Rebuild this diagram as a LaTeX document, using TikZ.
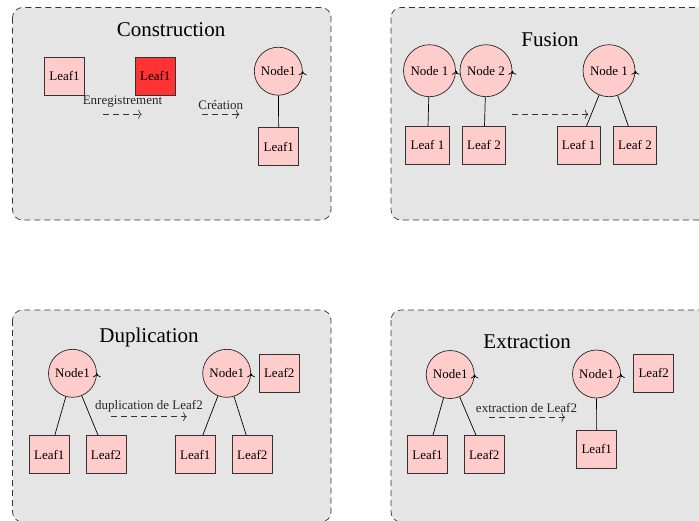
\documentclass[tikz,border=0pt]{standalone}
\usepackage{fontspec}
\setmainfont{Liberation Serif}
\usetikzlibrary{arrows.meta}
\tikzset{
  panel/.style={draw=black!80, fill=black!10, dash pattern=on 6pt off 4pt, rounded corners=10pt, line width=0.7pt},
  leaf/.style={draw=black!80, fill=red!20, minimum width=40pt, minimum height=38pt, inner sep=1pt, font=\fontsize{13}{15}\selectfont, line width=0.7pt},
  wideleaf/.style={leaf, minimum width=43.5pt},
  redleaf/.style={leaf, fill=red!80},
  inode/.style={draw=black!85, circle, fill=red!20, minimum size=48pt, inner sep=1pt, font=\fontsize{13}{15}\selectfont, line width=0.7pt},
  bignode/.style={inode, minimum size=52pt},
  paneltitle/.style={font=\fontsize{21}{25}\selectfont, inner sep=0pt},
  lbl/.style={font=\fontsize{13}{15}\selectfont, inner sep=0pt, text=black!85},
  move/.style={draw=black!80, dash pattern=on 6pt off 4pt, line width=0.7pt, -{To[length=3.5pt,width=9pt]}},
  link/.style={draw=black, line width=0.7pt},
  turn/.style={draw=black, line width=0.7pt, -{To[length=4pt,width=8pt]}}
}
\begin{document}
\begin{tikzpicture}[x=1pt,y=-1pt]
\clip (0,0) rectangle (699,520);
% panels
\path[panel] (12.5,7.5) rectangle (331,220);
\path[panel] (391,7.5) rectangle (712,220);
\path[panel] (12.5,310) rectangle (331,522);
\path[panel] (391,310) rectangle (712,522);

% ---------------- Construction
\node[paneltitle] (ct) at (171,30) {Construction};
\node[leaf] (c1) at (64.5,76) {Leaf1};
\node[redleaf] (c2) at (155.3,76) {Leaf1};
\node[inode] (c3) at (278.3,71.2) {Node1};
\node[leaf] (c4) at (278.8,146.7) {Leaf1};
\draw[link] (c3) -- (c4);
\coordinate (ca1) at (103,114.3);
\coordinate (cb1) at (141.7,114.3);
\draw[move] (ca1) -- (cb1);
\node[lbl] (cl1) at (122.5,101.7) {Enregistrement};
\coordinate (ca2) at (201.7,114.3);
\coordinate (cb2) at (239.3,114.3);
\draw[move] (ca2) -- (cb2);
\node[lbl] (cl2) at (220.8,105) {Création};
\draw[turn] ([yshift=-3pt]c3.east) -- (c3.east);

% ---------------- Fusion
\node[paneltitle] (ft) at (550,40) {Fusion};
\node[bignode] (fn1) at (429.5,70.7) {Node 1};
\node[bignode] (fn2) at (486,70.7) {Node 2};
\node[wideleaf] (fl1) at (427.5,145.2) {Leaf 1};
\node[wideleaf] (fl2) at (484,145.2) {Leaf 2};
\draw[link] (fn1) -- (fl1);
\draw[link] (fn2) -- (fl2);
\coordinate (fa) at (512.3,114.3);
\coordinate (fb) at (588.3,114.3);
\draw[move] (fa) -- (fb);
\node[bignode] (fn3) at (609,70.7) {Node 1};
\node[wideleaf] (fl3) at (578.7,145.2) {Leaf 1};
\node[wideleaf] (fl4) at (635,145.2) {Leaf 2};
\draw[link] (fn3) -- (fl3);
\draw[link] (fn3) -- (fl4);
\draw[turn] ([yshift=-3pt]fn1.east) -- (fn1.east);
\draw[turn] ([yshift=-3pt]fn2.east) -- (fn2.east);
\draw[turn] ([yshift=-3pt]fn3.east) -- (fn3.east);

% ---------------- Duplication
\node[paneltitle] (dt) at (149,337.3) {Duplication};
\node[inode] (dn1) at (72.5,373.3) {Node1};
\node[leaf] (dl1) at (49.3,454.5) {Leaf1};
\node[leaf] (dl2) at (106,454.5) {Leaf2};
\draw[link] (dn1) -- (dl1);
\draw[link] (dn1) -- (dl2);
\coordinate (da) at (111,416.7);
\coordinate (db) at (186.7,416.7);
\draw[move] (da) -- (db);
\node[lbl] (dlab) at (149,406) {duplication de Leaf2};
\node[inode] (dn2) at (226.7,373.3) {Node1};
\node[leaf] (dl3) at (279.2,373.3) {Leaf2};
\node[leaf] (dl4) at (195.3,454.5) {Leaf1};
\node[leaf] (dl5) at (252.3,454.5) {Leaf2};
\draw[link] (dn2) -- (dl4);
\draw[link] (dn2) -- (dl5);
\draw[turn] ([yshift=-3pt]dn1.east) -- (dn1.east);
\draw[turn] ([yshift=-3pt]dn2.east) -- (dn2.east);

% ---------------- Extraction
\node[paneltitle] (et) at (527.2,341.7) {Extraction};
\node[inode] (en1) at (450.2,374.5) {Node1};
\node[leaf] (el1) at (427.5,454.5) {Leaf1};
\node[leaf] (el2) at (484.2,454.5) {Leaf2};
\draw[link] (en1) -- (el1);
\draw[link] (en1) -- (el2);
\coordinate (ea) at (489,417.3);
\coordinate (eb) at (565,417.3);
\draw[move] (ea) -- (eb);
\node[lbl] (elab) at (526.5,408.3) {extraction de Leaf2};
\node[inode] (en2) at (596.5,374) {Node1};
\node[leaf] (el3) at (653.7,373.3) {Leaf2};
\node[leaf] (el4) at (596.7,449.2) {Leaf1};
\draw[link] (en2) -- (el4);
\draw[turn] ([yshift=-3pt]en1.east) -- (en1.east);
\draw[turn] ([yshift=-3pt]en2.east) -- (en2.east);
\end{tikzpicture}
\end{document}
